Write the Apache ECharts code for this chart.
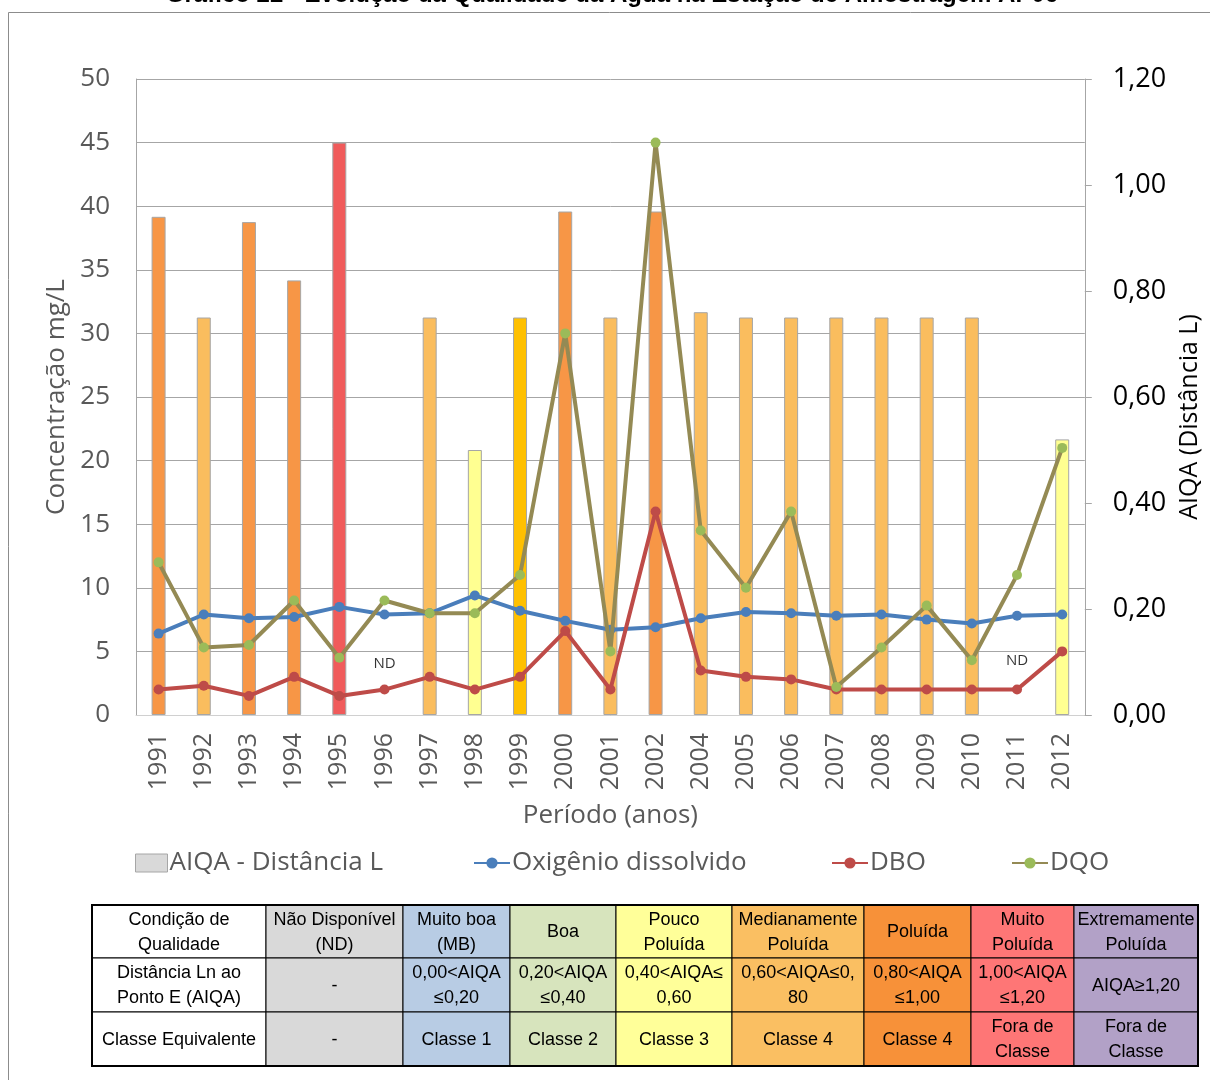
<!DOCTYPE html>
<html>
<head>
<meta charset="utf-8">
<script src="https://cdn.jsdelivr.net/npm/echarts@6/dist/echarts.min.js"></script>
<style>
  html, body { margin: 0; padding: 0; background: #ffffff; }
  #chart { width: 1210px; height: 1080px; }
</style>
</head>
<body>
<div id="chart"></div>
<script>
// Sampling years (no campaign in 2003)
const years = ['1991','1992','1993','1994','1995','1996','1997','1998','1999','2000','2001','2002','2004','2005','2006','2007','2008','2009','2010','2011','2012'];

// AIQA - distance L (right axis); null = not available
const aiqa = [0.94, 0.75, 0.93, 0.82, 1.08, null, 0.75, 0.50, 0.75, 0.95, 0.75, 0.95, 0.76, 0.75, 0.75, 0.75, 0.75, 0.75, 0.75, null, 0.52];
// Fill of each AIQA bar by quality class
const aiqaColors = ['#f79646','#fabd5e','#f79646','#f79646','#f05b5b',null,'#fabd5e','#ffff91','#ffc000','#f79646','#fabd5e','#f79646','#fabd5e','#fabd5e','#fabd5e','#fabd5e','#fabd5e','#fabd5e','#fabd5e',null,'#ffff91'];

// Concentrations in mg/L (left axis)
const oxigenio = [6.4, 7.9, 7.6, 7.7, 8.5, 7.9, 8.0, 9.4, 8.2, 7.4, 6.7, 6.9, 7.6, 8.1, 8.0, 7.8, 7.9, 7.5, 7.2, 7.8, 7.9];
const dbo = [2.0, 2.3, 1.5, 3.0, 1.5, 2.0, 3.0, 2.0, 3.0, 6.6, 2.0, 16.0, 3.5, 3.0, 2.8, 2.0, 2.0, 2.0, 2.0, 2.0, 5.0];
const dqo = [12.0, 5.3, 5.5, 9.0, 4.5, 9.0, 8.0, 8.0, 11.0, 30.0, 5.0, 45.0, 14.5, 10.0, 16.0, 2.2, 5.3, 8.6, 4.3, 11.0, 21.0];

// "ND" notes for years without AIQA
const ndNotes = [['1996', 4.0], ['2011', 4.3]];

// Classification table
const tableRows = [
  ['Condição de\nQualidade', 'Não Disponível\n(ND)', 'Muito boa\n(MB)', 'Boa', 'Pouco\nPoluída', 'Medianamente\nPoluída', 'Poluída', 'Muito\nPoluída', 'Extremamente\nPoluída'],
  ['Distância Ln ao\nPonto E (AIQA)', '-', '0,00<AIQA\n≤0,20', '0,20<AIQA\n≤0,40', '0,40<AIQA≤\n0,60', '0,60<AIQA≤0,\n80', '0,80<AIQA\n≤1,00', '1,00<AIQA\n≤1,20', 'AIQA≥1,20'],
  ['Classe Equivalente', '-', 'Classe 1', 'Classe 2', 'Classe 3', 'Classe 4', 'Classe 4', 'Fora de\nClasse', 'Fora de\nClasse']
];
const tableColors = ['#ffffff', '#d9d9d9', '#b8cce4', '#d7e4bd', '#ffff99', '#fabf62', '#f79139', '#fe7676', '#b2a1c7'];

const FONT = '"Open Sans", sans-serif';
const TFONT = '"Liberation Sans", Arial, sans-serif';

// table geometry
const colW = [174, 137, 107, 106, 116, 132, 107, 103, 124];
const rowH = [53, 54, 54];
const tableX = 92, tableY = 905;

function buildTable() {
  const els = [];
  let y = tableY;
  for (let r = 0; r < tableRows.length; r++) {
    let x = tableX;
    for (let c = 0; c < colW.length; c++) {
      els.push({
        type: 'rect',
        shape: { x: x, y: y, width: colW[c], height: rowH[r] },
        style: { fill: tableColors[c], stroke: '#000', lineWidth: 1 }
      });
      els.push({
        type: 'text',
        x: x + colW[c] / 2,
        y: y + rowH[r] / 2 + 1,
        style: {
          text: tableRows[r][c],
          font: '18px ' + TFONT,
          fill: '#000',
          align: 'center',
          verticalAlign: 'middle',
          lineHeight: 25
        }
      });
      x += colW[c];
    }
    y += rowH[r];
  }
  const totalW = colW.reduce((a, b) => a + b, 0);
  const totalH = rowH.reduce((a, b) => a + b, 0);
  els.push({
    type: 'rect',
    shape: { x: tableX, y: tableY, width: totalW, height: totalH },
    style: { fill: null, stroke: '#000', lineWidth: 2 }
  });
  return els;
}

const chart = echarts.init(document.getElementById('chart'), null, { renderer: 'canvas' });

const legendText = { fontSize: 26, color: '#595959', fontFamily: FONT, padding: [0, 0, 0, -3] };

const option = {
  backgroundColor: '#ffffff',
  animation: false,
  graphic: [
    {
      type: 'rect',
      shape: { x: 8.5, y: 12.5, width: 1220, height: 1100 },
      style: { fill: null, stroke: '#8c8c8c', lineWidth: 1 },
      z: -10
    },
    {
      type: 'text',
      x: 612,
      y: -5,
      style: {
        text: 'Gráfico 22 - Evolução da Qualidade da Água na Estação de Amostragem AP06',
        font: 'bold 24px ' + TFONT,
        fill: '#000',
        align: 'center',
        verticalAlign: 'middle'
      }
    }
  ].concat(buildTable()),
  grid: { left: 136, right: 122, top: 79, bottom: 365 },
  legend: [
    { left: 135, top: 850, padding: 0, itemWidth: 32, itemHeight: 18, textStyle: legendText,
      data: [{ name: 'AIQA - Distância L', icon: 'rect', itemStyle: { color: '#d9d9d9', borderColor: '#a6a6a6', borderWidth: 1 } }] },
    { left: 473, top: 850, padding: 0, itemWidth: 36, itemHeight: 14, textStyle: legendText,
      data: ['Oxigênio dissolvido'] },
    { left: 831, top: 850, padding: 0, itemWidth: 36, itemHeight: 14, textStyle: legendText,
      data: ['DBO'] },
    { left: 1011, top: 850, padding: 0, itemWidth: 36, itemHeight: 14, textStyle: legendText,
      data: ['DQO'] }
  ],
  xAxis: {
    type: 'category',
    data: years,
    boundaryGap: true,
    name: 'Período (anos)',
    nameLocation: 'middle',
    nameGap: 88,
    nameTextStyle: { fontSize: 26, color: '#595959', fontFamily: FONT },
    axisLine: { lineStyle: { color: '#d0d0d0', width: 1 } },
    axisTick: { show: false },
    axisLabel: { rotate: 90, margin: 18, fontSize: 25, color: '#595959', fontFamily: FONT, interval: 0 }
  },
  yAxis: [
    {
      type: 'value',
      min: 0, max: 50, interval: 5,
      position: 'left',
      name: 'Concentração mg/L',
      nameLocation: 'middle',
      nameRotate: 90,
      nameGap: 66,
      nameTextStyle: { fontSize: 26, color: '#595959', fontFamily: FONT },
      axisLine: { show: true, lineStyle: { color: '#a6a6a6' } },
      axisTick: { show: false },
      axisLabel: { margin: 26, fontSize: 26, color: '#595959', fontFamily: FONT },
      splitLine: { show: true, lineStyle: { color: '#a6a6a6', width: 1 } }
    },
    {
      type: 'value',
      min: 0, max: 1.2, interval: 0.2,
      position: 'right',
      name: 'AIQA (Distância L)',
      nameLocation: 'middle',
      nameRotate: 90,
      nameGap: 91,
      nameTextStyle: { fontSize: 25, color: '#000', fontFamily: FONT, padding: [0, 40, 0, 0] },
      axisLine: { show: true, lineStyle: { color: '#a6a6a6' } },
      axisTick: { show: true, inside: false, length: 7, lineStyle: { color: '#a6a6a6' } },
      axisLabel: {
        margin: 28, fontSize: 27, color: '#000', fontFamily: FONT,
        formatter: v => v.toFixed(2).replace('.', ',')
      },
      splitLine: { show: false }
    }
  ],
  series: [
    {
      name: 'AIQA - Distância L',
      type: 'bar',
      yAxisIndex: 1,
      barWidth: 14,
      itemStyle: { color: '#d9d9d9', borderColor: '#a6a6a6', borderWidth: 1 },
      data: aiqa.map((v, i) => v === null ? null : { value: v, itemStyle: { color: aiqaColors[i] } }),
      z: 2
    },
    {
      name: 'Oxigênio dissolvido',
      type: 'line',
      yAxisIndex: 0,
      data: oxigenio,
      symbol: 'circle',
      symbolSize: 10,
      lineStyle: { color: '#4a7ebb', width: 4 },
      itemStyle: { color: '#4a7ebb' },
      z: 3
    },
    {
      name: 'DBO',
      type: 'line',
      yAxisIndex: 0,
      data: dbo,
      symbol: 'circle',
      symbolSize: 10,
      lineStyle: { color: '#be4b48', width: 4 },
      itemStyle: { color: '#be4b48' },
      z: 4
    },
    {
      name: 'DQO',
      type: 'line',
      yAxisIndex: 0,
      data: dqo,
      symbol: 'circle',
      symbolSize: 10,
      lineStyle: { color: '#948a54', width: 4 },
      itemStyle: { color: '#9bbb59' },
      z: 5
    },
    {
      name: 'ND',
      type: 'scatter',
      yAxisIndex: 0,
      data: ndNotes,
      symbolSize: 0,
      silent: true,
      label: {
        show: true,
        position: 'inside',
        formatter: 'ND',
        fontSize: 15,
        color: '#000',
        fontFamily: FONT
      },
      z: 6
    }
  ]
};

chart.setOption(option);
</script>
</body>
</html>
